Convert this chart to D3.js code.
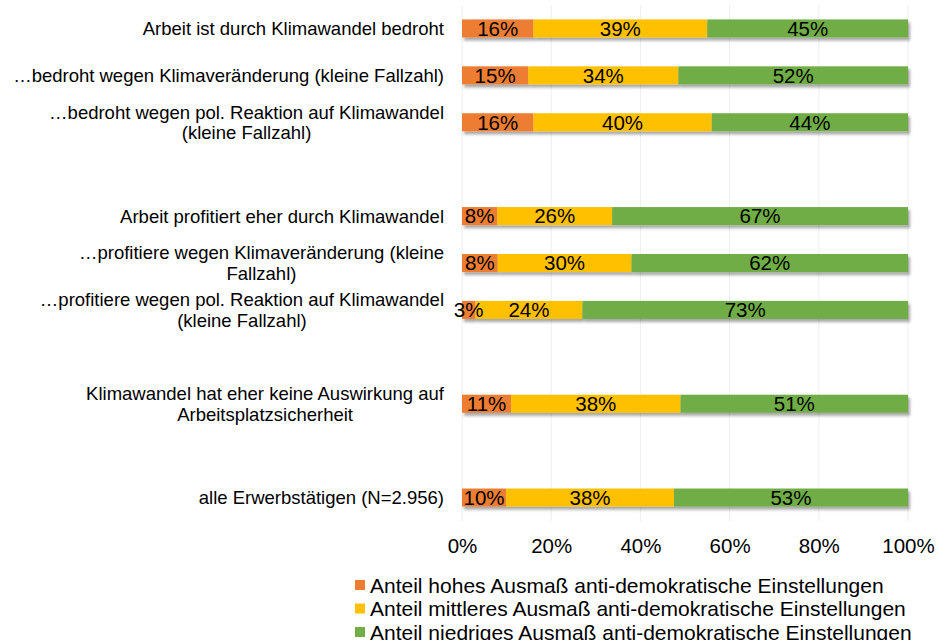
<!DOCTYPE html>
<html lang="de">
<head>
  <meta charset="UTF-8">
  <title>Anti-demokratische Einstellungen nach Klimawandel-Betroffenheit</title>
  <script src="https://d3js.org/d3.v7.min.js"></script>
</head>
<body style="margin:0;background:#fff">

<div id="chart"></div>

<script>

// rows top to bottom, null = empty slot in the chart
var categories = [
  ["Arbeit ist durch Klimawandel bedroht"],
  ["\u2026bedroht wegen Klimaver\u00e4nderung (kleine Fallzahl)"],
  ["\u2026bedroht wegen pol. Reaktion auf Klimawandel", "(kleine Fallzahl)"],
  null,
  ["Arbeit profitiert eher durch Klimawandel"],
  ["\u2026profitiere wegen Klimaver\u00e4nderung (kleine", "Fallzahl)"],
  ["\u2026profitiere wegen pol. Reaktion auf Klimawandel", "(kleine Fallzahl)"],
  null,
  ["Klimawandel hat eher keine Auswirkung auf", "Arbeitsplatzsicherheit"],
  null,
  ["alle Erwerbst\u00e4tigen (N=2.956)"]
];

var hoch    = [16, 15, 16, null, 8, 8, 3, null, 11, null, 10];
var mittel  = [39, 34, 40, null, 26, 30, 24, null, 38, null, 38];
var niedrig = [45, 52, 44, null, 67, 62, 73, null, 51, null, 53];

var seriesKeys = ["hoch", "mittel", "niedrig"];
var seriesNames = [
  "Anteil hohes Ausma\u00df anti-demokratische Einstellungen",
  "Anteil mittleres Ausma\u00df anti-demokratische Einstellungen",
  "Anteil niedriges Ausma\u00df anti-demokratische Einstellungen"
];
var colors = ["#ED7D31", "#FFC000", "#70AD47"];
var xTicks = [0, 0.2, 0.4, 0.6, 0.8, 1];

var width = 936, height = 640;
var plot = {left: 462, right: 908, top: 5, bottom: 521};
var font = "'Liberation Sans', Arial, sans-serif";

var rows = [];
categories.forEach(function(c, i) {
  if (c) rows.push({slot: i, label: c, hoch: hoch[i], mittel: mittel[i], niedrig: niedrig[i]});
});

var stacked = d3.stack().keys(seriesKeys).offset(d3.stackOffsetExpand)(rows);

var x = d3.scaleLinear().domain([0, 1]).range([plot.left, plot.right]);
var y = d3.scaleBand()
  .domain(d3.range(categories.length))
  .range([plot.top, plot.bottom])
  .paddingInner(0.615)
  .paddingOuter(0.3075);

var svg = d3.select("#chart").append("svg")
  .attr("width", width)
  .attr("height", height)
  .style("font-family", font);

var defs = svg.append("defs");
var shadow = defs.append("filter").attr("id", "shadow")
  .attr("x", "-5%").attr("y", "-30%").attr("width", "110%").attr("height", "180%");
shadow.append("feDropShadow")
  .attr("dx", 2).attr("dy", 3).attr("stdDeviation", 1.8)
  .attr("flood-color", "#000").attr("flood-opacity", 0.35);

// gridlines
svg.append("g")
  .selectAll("line")
  .data(xTicks)
  .join("line")
    .attr("x1", d => x(d)).attr("x2", d => x(d))
    .attr("y1", plot.top).attr("y2", plot.bottom)
    .attr("stroke", "#eeeeee")
    .attr("stroke-width", 1);

// bars
var barG = svg.append("g").attr("filter", "url(#shadow)");
barG.selectAll("g")
  .data(stacked)
  .join("g")
    .attr("fill", (d, i) => colors[i])
  .selectAll("rect")
  .data(d => d)
  .join("rect")
    .attr("x", d => x(d[0]))
    .attr("width", d => x(d[1]) - x(d[0]))
    .attr("y", d => y(d.data.slot))
    .attr("height", y.bandwidth());

// value labels
var labG = svg.append("g")
  .attr("font-size", "20.5px")
  .attr("fill", "#000")
  .attr("text-anchor", "middle");
stacked.forEach(function(s) {
  labG.selectAll(null)
    .data(s)
    .join("text")
      .attr("x", d => (x(d[0]) + x(d[1])) / 2)
      .attr("y", d => y(d.data.slot) + y.bandwidth() / 2)
      .attr("dy", "0.36em")
      .text(d => d.data[s.key] + "%");
});

// category labels (Excel style: wrapped lines centred, block right-aligned)
var catG = svg.append("g").attr("font-size", "18.5px").attr("fill", "#000");
rows.forEach(function(r) {
  var cy = y(r.slot) + y.bandwidth() / 2;
  var lh = 20.5;
  var t = catG.append("text").attr("text-anchor", "middle");
  r.label.forEach(function(line, j) {
    t.append("tspan")
      .attr("y", cy + (j - (r.label.length - 1) / 2) * lh)
      .attr("dy", "0.36em")
      .text(line);
  });
  var maxW = 0;
  t.selectAll("tspan").each(function() { maxW = Math.max(maxW, this.getComputedTextLength()); });
  t.selectAll("tspan").attr("x", 444 - maxW / 2);
});

// x axis
svg.append("g")
  .attr("transform", "translate(0," + 538 + ")")
  .call(d3.axisBottom(x).tickValues(xTicks).tickFormat(d3.format(".0%")).tickSize(0).tickPadding(0))
  .call(g => g.select(".domain").remove())
  .call(g => g.selectAll("text")
    .attr("font-size", "20.5px")
    .attr("font-family", font)
    .attr("fill", "#000")
    .attr("dy", "0.71em"));

// legend
var legend = svg.append("g").attr("font-size", "21px");
var li = legend.selectAll("g")
  .data(seriesNames)
  .join("g")
    .attr("transform", (d, i) => "translate(355," + (585 + i * 23.5) + ")");
li.append("rect")
  .attr("x", 0).attr("y", -5)
  .attr("width", 10).attr("height", 10)
  .attr("fill", (d, i) => colors[i]);
li.append("text")
  .attr("x", 15)
  .attr("dy", "0.36em")
  .attr("fill", "#000")
  .text(d => d);

</script>

</body>
</html>
